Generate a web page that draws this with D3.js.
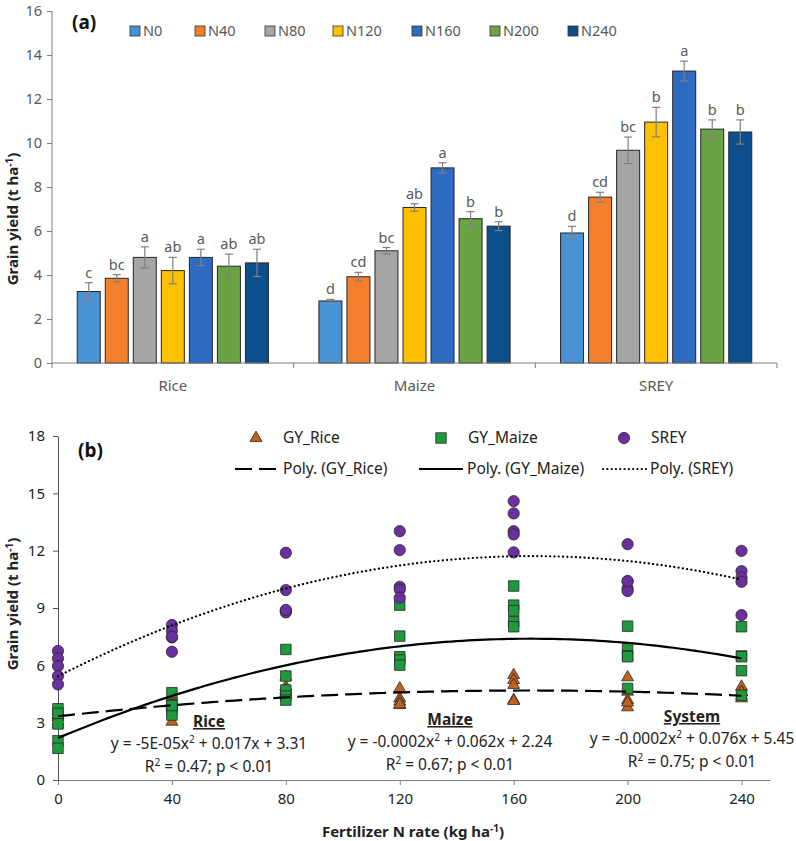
<!DOCTYPE html>
<html>
<head>
<meta charset="utf-8">
<script src="https://cdn.jsdelivr.net/npm/d3@7"></script>
<style>
  body { margin: 0; background: #fff; }
  svg text { font-family: "Noto Sans", "Liberation Sans", sans-serif; }
</style>
</head>
<body>
<svg id="chart" width="796" height="841"></svg>
<script>
// ---- panel (a) data ----
var crops = ["Rice", "Maize", "SREY"];
var nLevels = ["N0", "N40", "N80", "N120", "N160", "N200", "N240"];
var nColors = ["#4a92d6", "#f47f2c", "#a5a5a5", "#ffc000", "#2e6cc4", "#69a343", "#0d4e8c"];

var riceMean  = [3.25, 3.85, 4.8, 4.2, 4.8, 4.4, 4.55];
var maizeMean = [2.82, 3.92, 5.1, 7.07, 8.87, 6.56, 6.22];
var sreyMean  = [5.91, 7.54, 9.67, 10.95, 13.27, 10.63, 10.5];

var riceErr  = [0.4, 0.17, 0.48, 0.6, 0.37, 0.55, 0.62];
var maizeErr = [0.07, 0.2, 0.15, 0.17, 0.23, 0.32, 0.2];
var sreyErr  = [0.3, 0.22, 0.6, 0.67, 0.45, 0.42, 0.55];

var riceLetters  = ["c", "bc", "a", "ab", "a", "ab", "ab"];
var maizeLetters = ["d", "cd", "bc", "ab", "a", "b", "b"];
var sreyLetters  = ["d", "cd", "bc", "b", "a", "b", "b"];

var yTicksA = [0, 2, 4, 6, 8, 10, 12, 14, 16];

// ---- panel (b) data ----
var rates = [0, 40, 80, 120, 160, 200, 240];
var gyRice = [
  [3.6, 3.4, 3.3, 3.05, 2.9],
  [3.05, 3.8, 3.9, 4.1, 4.4],
  [5.4, 4.88, 4.57, 4.7, 4.45],
  [4.79, 4.27, 4.1, 3.92, 3.95],
  [5.49, 5.23, 4.97, 4.18, 4.13],
  [5.37, 4.62, 4.18, 3.8, 4.05],
  [4.88, 4.27, 4.4, 4.6, 4.6]
];
var gyMaize = [
  [3.73, 3.49, 2.93, 2.06, 1.66],
  [4.57, 3.92, 3.66, 3.4, 3.9],
  [6.83, 5.44, 4.71, 4.39, 4.18],
  [9.15, 7.53, 6.45, 6.28, 6.01],
  [10.15, 9.15, 8.86, 8.28, 8.02],
  [8.05, 6.89, 6.5, 6.45, 4.79],
  [8.02, 6.49, 6.45, 5.72, 4.43]
];
var srey = [
  [6.75, 6.36, 5.96, 5.44, 5.0],
  [8.11, 7.81, 7.46, 6.71, 7.5],
  [11.89, 9.94, 8.86, 8.77, 8.9],
  [13.02, 12.03, 10.11, 9.97, 9.54],
  [14.59, 13.95, 13.02, 12.85, 11.91],
  [12.34, 10.41, 10.03, 9.89, 10.4],
  [11.99, 10.93, 10.6, 10.37, 8.63]
];
var xTicksB = [0, 40, 80, 120, 160, 200, 240];
var yTicksB = [0, 3, 6, 9, 12, 15, 18];

var svg = d3.select("#chart");
var grey = "#595959";

// ================= panel (a) =================
var ga = svg.append("g");
var yA = d3.scaleLinear().domain([0, 16]).range([363, 11]);
var x0 = d3.scaleBand().domain(crops).range([52, 777]);
var x1 = d3.scaleBand().domain(nLevels).range([0, x0.bandwidth()]).paddingInner(0.18).paddingOuter(0.9);

var barData = [];
[riceMean, maizeMean, sreyMean].forEach(function(arr, ci) {
  var errs = [riceErr, maizeErr, sreyErr][ci];
  var lets = [riceLetters, maizeLetters, sreyLetters][ci];
  arr.forEach(function(v, i) {
    barData.push({crop: crops[ci], n: nLevels[i], v: v, e: errs[i], l: lets[i], c: nColors[i]});
  });
});

// y axis
var yAxisA = ga.append("g")
  .attr("transform", "translate(52,0)")
  .call(d3.axisLeft(yA).tickValues(yTicksA).tickSize(5).tickPadding(5));
yAxisA.selectAll("text").style("font-size", "14.5px").attr("fill", grey);
yAxisA.selectAll("line, path").attr("stroke", "#7f7f7f");
yAxisA.select(".domain").attr("d", "M0," + yA(0) + "V" + yA(16));

// bars
ga.selectAll(".bar").data(barData).enter().append("rect")
  .attr("x", function(d) { return x0(d.crop) + x1(d.n); })
  .attr("y", function(d) { return yA(d.v); })
  .attr("width", x1.bandwidth())
  .attr("height", function(d) { return yA(0) - yA(d.v); })
  .attr("fill", function(d) { return d.c; })
  .attr("stroke", "#262626").attr("stroke-width", 1);

// error bars
var eb = ga.selectAll(".err").data(barData).enter().append("g")
  .attr("transform", function(d) { return "translate(" + (x0(d.crop) + x1(d.n) + x1.bandwidth() / 2) + ",0)"; })
  .attr("stroke", "#808080").attr("stroke-width", 1.2);
eb.append("line").attr("x1", 0).attr("x2", 0)
  .attr("y1", function(d) { return yA(d.v - d.e); })
  .attr("y2", function(d) { return yA(d.v + d.e); });
eb.append("line").attr("x1", -4).attr("x2", 4)
  .attr("y1", function(d) { return yA(d.v + d.e); })
  .attr("y2", function(d) { return yA(d.v + d.e); });
eb.append("line").attr("x1", -4).attr("x2", 4)
  .attr("y1", function(d) { return yA(d.v - d.e); })
  .attr("y2", function(d) { return yA(d.v - d.e); });

// letters
ga.selectAll(".let").data(barData).enter().append("text")
  .attr("x", function(d) { return x0(d.crop) + x1(d.n) + x1.bandwidth() / 2; })
  .attr("y", function(d) { return yA(d.v + d.e) - 5; })
  .attr("text-anchor", "middle").style("font-size", "14.5px").attr("fill", grey)
  .text(function(d) { return d.l; });

// x axis (category boundaries)
ga.append("line").attr("x1", 52).attr("x2", 777).attr("y1", yA(0)).attr("y2", yA(0))
  .attr("stroke", "#7f7f7f");
var bounds = crops.map(function(c) { return x0(c); }).concat([x0.range()[1]]);
ga.selectAll(".btick").data(bounds).enter().append("line")
  .attr("x1", function(d) { return d; }).attr("x2", function(d) { return d; })
  .attr("y1", yA(0)).attr("y2", yA(0) + 5).attr("stroke", "#7f7f7f");
ga.selectAll(".clab").data(crops).enter().append("text")
  .attr("x", function(d) { return x0(d) + x0.bandwidth() / 2; })
  .attr("y", 391).attr("text-anchor", "middle")
  .style("font-size", "15px").attr("fill", grey)
  .text(function(d) { return d; });

// y title
var ytA = ga.append("text").attr("transform", "translate(18,219) rotate(-90)")
  .attr("text-anchor", "middle").style("font-size", "15px").style("font-weight", "bold").attr("fill", "#222");
ytA.append("tspan").text("Grain yield (t ha");
ytA.append("tspan").attr("dy", -5).style("font-size", "10px").text("-1");
ytA.append("tspan").attr("dy", 5).text(")");

// panel label
ga.append("text").attr("x", 72).attr("y", 29).style("font-size", "19px")
  .style("font-weight", "bold").attr("fill", "#111").text("(a)");

// legend
var legX = [130, 195, 265, 333, 412, 490, 568];
var legA = ga.selectAll(".lega").data(nLevels).enter().append("g")
  .attr("transform", function(d, i) { return "translate(" + legX[i] + ",31)"; });
legA.append("rect").attr("x", 0).attr("y", -5).attr("width", 10).attr("height", 10)
  .attr("fill", function(d, i) { return nColors[i]; }).attr("stroke", "#333").attr("stroke-width", 0.8);
legA.append("text").attr("x", 13).attr("y", 5).style("font-size", "14.5px").attr("fill", grey)
  .text(function(d) { return d; });

// ================= panel (b) =================
var gb = svg.append("g");
var xB = d3.scaleLinear().domain([0, 250]).range([58, 770]);
var yB = d3.scaleLinear().domain([0, 18]).range([780, 436]);

var xAxisB = gb.append("g").attr("transform", "translate(0," + yB(0) + ")")
  .call(d3.axisBottom(xB).tickValues(xTicksB).tickSize(5).tickPadding(8).tickSizeOuter(0));
xAxisB.selectAll("text").style("font-size", "15px").attr("fill", "#222");
xAxisB.selectAll("line, path").attr("stroke", "#7f7f7f");

var yAxisB = gb.append("g").attr("transform", "translate(" + xB(0) + ",0)")
  .call(d3.axisLeft(yB).tickValues(yTicksB).tickSize(5).tickPadding(8).tickSizeOuter(0));
yAxisB.selectAll("text").style("font-size", "15px").attr("fill", "#222");
yAxisB.selectAll("line, path").attr("stroke", "#555");

// flatten points
function flat(series) {
  var out = [];
  series.forEach(function(vals, i) {
    vals.forEach(function(v) { out.push({x: rates[i], y: v}); });
  });
  return out;
}
var ptsRice = flat(gyRice), ptsMaize = flat(gyMaize), ptsSrey = flat(srey);

// least-squares quadratic (same as Excel poly. order 2 trendline)
function quadFit(pts) {
  var s = [0, 0, 0, 0, 0], t = [0, 0, 0];
  pts.forEach(function(p) {
    for (var k = 0; k < 5; k++) s[k] += Math.pow(p.x, k);
    for (var k = 0; k < 3; k++) t[k] += p.y * Math.pow(p.x, k);
  });
  var A = [[s[0], s[1], s[2], t[0]], [s[1], s[2], s[3], t[1]], [s[2], s[3], s[4], t[2]]];
  for (var i = 0; i < 3; i++) {
    for (var j = i + 1; j < 3; j++) {
      var f = A[j][i] / A[i][i];
      for (var k = i; k < 4; k++) A[j][k] -= f * A[i][k];
    }
  }
  var c = [0, 0, 0];
  for (var i = 2; i >= 0; i--) {
    var sum = A[i][3];
    for (var k = i + 1; k < 3; k++) sum -= A[i][k] * c[k];
    c[i] = sum / A[i][i];
  }
  return function(x) { return c[0] + c[1] * x + c[2] * x * x; };
}

var sym = {
  tri: d3.symbol(d3.symbolTriangle, 62)(),
  sq: d3.symbol(d3.symbolSquare, 110)(),
  circ: d3.symbol(d3.symbolCircle, 100)()
};

function drawPoints(pts, path, fill) {
  gb.append("g").selectAll("path").data(pts).enter().append("path")
    .attr("d", path)
    .attr("transform", function(d) { return "translate(" + xB(d.x) + "," + yB(d.y) + ")"; })
    .attr("fill", fill).attr("stroke", "#2a2a2a").attr("stroke-width", 0.8);
}
drawPoints(ptsRice, sym.tri, "#c5621a");
drawPoints(ptsMaize, sym.sq, "#1e9a3c");
drawPoints(ptsSrey, sym.circ, "#6b2fa0");

// trend lines
var xs = d3.range(0, 240.5, 2);
function drawTrend(pts, dash, cap) {
  var f = quadFit(pts);
  gb.append("path")
    .attr("d", d3.line().x(function(x) { return xB(x); }).y(function(x) { return yB(f(x)); })(xs))
    .attr("fill", "none").attr("stroke", "#000").attr("stroke-width", 2.2)
    .attr("stroke-dasharray", dash).attr("stroke-linecap", cap);
}
drawTrend(ptsRice, "17,7", "butt");
drawTrend(ptsMaize, null, "butt");
drawTrend(ptsSrey, "0.1,4.2", "round");

// annotations
var notes = [
  {title: "Rice", cx: 209, y0: 727, eq: ["y = -5E-05x", "2", " + 0.017x + 3.31"], r2: "0.47"},
  {title: "Maize", cx: 450, y0: 725, eq: ["y = -0.0002x", "2", " + 0.062x + 2.24"], r2: "0.67"},
  {title: "System", cx: 692, y0: 722, eq: ["y = -0.0002x", "2", " + 0.076x + 5.45"], r2: "0.75"}
];
notes.forEach(function(n) {
  gb.append("text").attr("x", n.cx).attr("y", n.y0).attr("text-anchor", "middle")
    .style("font-size", "15.5px").style("font-weight", "bold").style("text-decoration", "underline")
    .attr("fill", "#222").text(n.title);
  var e = gb.append("text").attr("x", n.cx).attr("y", n.y0 + 22).attr("text-anchor", "middle")
    .style("font-size", "15.5px").attr("fill", "#222");
  e.append("tspan").text(n.eq[0]);
  e.append("tspan").attr("dy", -6).style("font-size", "10px").text(n.eq[1]);
  e.append("tspan").attr("dy", 6).text(n.eq[2]);
  var r = gb.append("text").attr("x", n.cx).attr("y", n.y0 + 45).attr("text-anchor", "middle")
    .style("font-size", "15.5px").attr("fill", "#222");
  r.append("tspan").text("R");
  r.append("tspan").attr("dy", -6).style("font-size", "10px").text("2");
  r.append("tspan").attr("dy", 6).text(" = " + n.r2 + "; p < 0.01");
});

// legend (b)
var legB1 = [
  {x: 256, t: "GY_Rice", s: sym.tri, c: "#c5621a"},
  {x: 441, t: "GY_Maize", s: sym.sq, c: "#1e9a3c"},
  {x: 624, t: "SREY", s: sym.circ, c: "#6b2fa0"}
];
legB1.forEach(function(d) {
  gb.append("path").attr("d", d.s).attr("transform", "translate(" + d.x + ",438)")
    .attr("fill", d.c).attr("stroke", "#2a2a2a").attr("stroke-width", 0.8);
  gb.append("text").attr("x", d.x + 27).attr("y", 443).style("font-size", "15.5px")
    .attr("fill", "#222").text(d.t);
});
var legB2 = [
  {x1: 235, x2: 279, t: "Poly. (GY_Rice)", dash: "17,7", cap: "butt"},
  {x1: 419, x2: 463, t: "Poly. (GY_Maize)", dash: null, cap: "butt"},
  {x1: 603, x2: 646, t: "Poly. (SREY)", dash: "0.1,4.2", cap: "round"}
];
legB2.forEach(function(d) {
  gb.append("line").attr("x1", d.x1).attr("x2", d.x2).attr("y1", 469).attr("y2", 469)
    .attr("stroke", "#000").attr("stroke-width", 2.2).attr("stroke-dasharray", d.dash)
    .attr("stroke-linecap", d.cap);
  gb.append("text").attr("x", d.x2 + 4).attr("y", 474).style("font-size", "15.5px")
    .attr("fill", "#222").text(d.t);
});

// titles
gb.append("text").attr("x", 78).attr("y", 457).style("font-size", "19px")
  .style("font-weight", "bold").attr("fill", "#111").text("(b)");
var ytB = gb.append("text").attr("transform", "translate(18,604) rotate(-90)")
  .attr("text-anchor", "middle").style("font-size", "15px").style("font-weight", "bold").attr("fill", "#222");
ytB.append("tspan").text("Grain yield (t ha");
ytB.append("tspan").attr("dy", -5).style("font-size", "10px").text("-1");
ytB.append("tspan").attr("dy", 5).text(")");
var xtB = gb.append("text").attr("x", 413).attr("y", 837).attr("text-anchor", "middle")
  .style("font-size", "15px").style("font-weight", "bold").attr("fill", "#222");
xtB.append("tspan").text("Fertilizer N rate (kg ha");
xtB.append("tspan").attr("dy", -5).style("font-size", "10px").text("-1");
xtB.append("tspan").attr("dy", 5).text(")");
</script>
</body>
</html>
